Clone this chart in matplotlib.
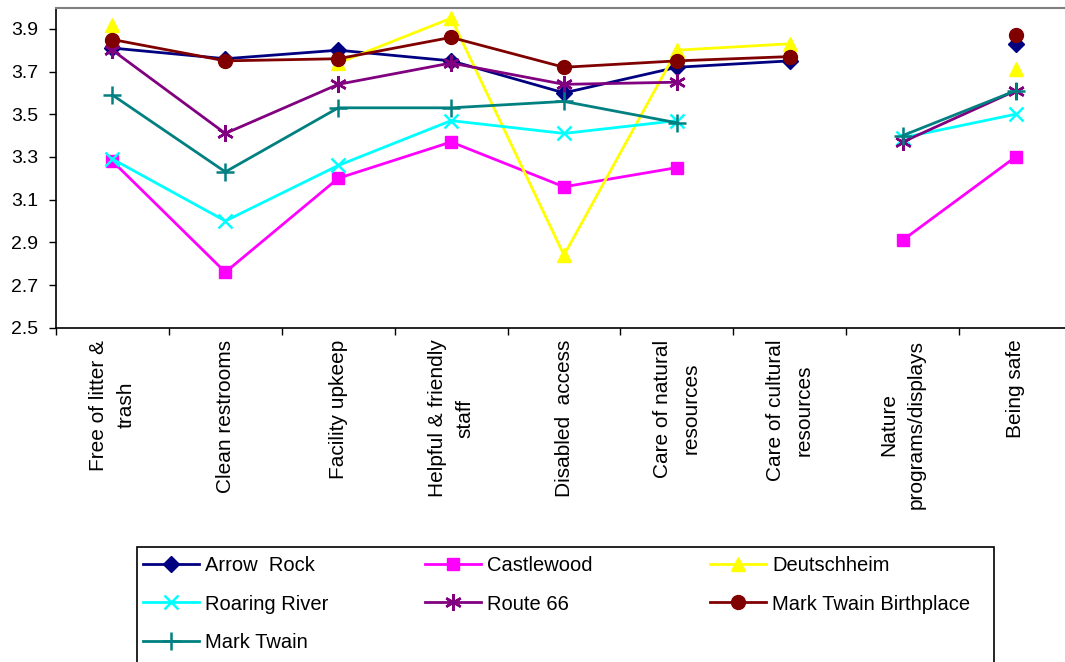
import numpy as np
import matplotlib
matplotlib.use("Agg")
import matplotlib.pyplot as plt
from matplotlib.patches import Rectangle

plt.rcParams['font.family'] = ['Liberation Sans', 'DejaVu Sans']

categories = ["Free of litter &\ntrash", "Clean restrooms", "Facility upkeep",
              "Helpful & friendly\nstaff", "Disabled  access", "Care of natural\nresources",
              "Care of cultural\nresources", "Nature\nprograms/displays", "Being safe"]

nan = np.nan
arrow_rock = [3.81, 3.76, 3.80, 3.75, 3.60, 3.72, 3.75, nan, 3.83]
castlewood = [3.28, 2.76, 3.20, 3.37, 3.16, 3.25, nan, 2.91, 3.30]
deutschheim = [3.92, nan, 3.74, 3.95, 2.84, 3.80, 3.83, nan, 3.71]
roaring_river = [3.29, 3.00, 3.26, 3.47, 3.41, 3.47, nan, 3.39, 3.50]
route_66 = [3.80, 3.41, 3.64, 3.74, 3.64, 3.65, nan, 3.37, 3.61]
mt_birthplace = [3.85, 3.75, 3.76, 3.86, 3.72, 3.75, 3.77, nan, 3.87]
mark_twain = [3.59, 3.23, 3.53, 3.53, 3.56, 3.46, nan, 3.40, 3.61]

series = [
    ("Arrow  Rock", arrow_rock, "#000080", "D", 8),
    ("Castlewood", castlewood, "#FF00FF", "s", 9),
    ("Deutschheim", deutschheim, "#FFFF00", "^", 10),
    ("Roaring River", roaring_river, "#00FFFF", "x", 10),
    ("Route 66", route_66, "#800080", (6, 2, 0), 12),
    ("Mark Twain Birthplace", mt_birthplace, "#800000", "o", 10),
    ("Mark Twain", mark_twain, "#008080", "+", 13),
]

W, H = 1065, 662
fig = plt.figure(figsize=(W / 100, H / 100), dpi=100)
ax = fig.add_axes([56 / W, 1 - 327.7 / H, 1016 / W, 320.2 / H])

x = np.arange(len(categories))
handles = []
for name, vals, color, marker, ms in series:
    mew = 1.8 if marker in ("x", "+", (6, 2, 0)) else 1.0
    ln, = ax.plot(x, vals, color=color, lw=2, marker=marker, markersize=ms,
                  markeredgewidth=mew, markerfacecolor=color, markeredgecolor=color,
                  label=name, clip_on=False)
    handles.append(ln)

ax.set_xlim(-0.5, len(categories) - 0.5)
ax.set_ylim(2.5, 4.0)
yt = np.arange(2.5, 3.91, 0.2)
ax.set_yticks(yt)
ax.set_yticklabels([f"{v:.1f}" for v in yt])
ax.tick_params(axis='y', direction='out', length=5, width=1, labelsize=14, pad=8)

ax.set_xticks(x)
ax.set_xticklabels(categories, rotation=90, ha='center', va='top',
                   multialignment='center', fontsize=15, linespacing=1.6)
ax.tick_params(axis='x', which='major', length=0, pad=8.5)
ax.set_xticks(np.arange(-0.5, len(categories), 1.0), minor=True)
ax.tick_params(axis='x', which='minor', direction='out', length=5, width=1)

ax.spines['top'].set_color('#808080')
ax.spines['top'].set_linewidth(1.5)
ax.spines['right'].set_color('#808080')
ax.spines['left'].set_linewidth(1.2)
ax.spines['bottom'].set_linewidth(1.2)

# legend: row-wise layout like the original, one legend per column
col_x = [143, 425, 710]
for c in range(3):
    hs = handles[c::3]
    fig.legend(handles=hs, loc='upper left',
               bbox_to_anchor=(col_x[c] / W, 1 - 556 / H),
               fontsize=14.5, frameon=False, borderaxespad=0, borderpad=0,
               handlelength=2.8, handletextpad=0.3, labelspacing=0.97)

fig.add_artist(Rectangle((137 / W, -0.05), (994 - 137) / W, 0.05 + (1 - 547 / H),
                         transform=fig.transFigure, fill=False,
                         edgecolor='black', linewidth=1.2))

fig.savefig("out.png", dpi=100)
